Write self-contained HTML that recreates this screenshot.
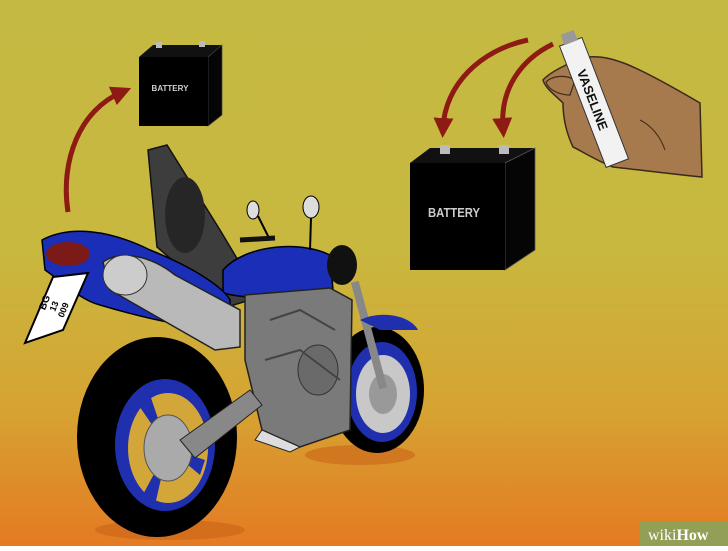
<!DOCTYPE html>
<html><head><style>
html,body{margin:0;padding:0;}
body{width:728px;height:546px;overflow:hidden;}
</style></head><body>
<svg width="728" height="546" viewBox="0 0 728 546" xmlns="http://www.w3.org/2000/svg">
<defs>
<linearGradient id="bg" x1="0" y1="0" x2="0" y2="1">
<stop offset="0" stop-color="#c4b942"/>
<stop offset="0.45" stop-color="#c8b83f"/>
<stop offset="0.75" stop-color="#d6a332"/>
<stop offset="1" stop-color="#e47a22"/>
</linearGradient>
<marker id="ah" viewBox="0 0 10 10" refX="5" refY="5" markerWidth="4" markerHeight="4" orient="auto-start-reverse">
<path d="M0,0 L10,5 L0,10 z" fill="#8e1a14"/>
</marker>
</defs>
<rect width="728" height="546" fill="url(#bg)"/>

<path d="M68,212 C60,160 80,110 122,92" stroke="#8e1a14" stroke-width="5" fill="none" marker-end="url(#ah)"/>
<path d="M528,40 C480,50 445,85 443,128" stroke="#8e1a14" stroke-width="5" fill="none" marker-end="url(#ah)"/>
<path d="M553,44 C520,60 500,90 503,128" stroke="#8e1a14" stroke-width="5" fill="none" marker-end="url(#ah)"/>

<polygon points="139,57 153,45 222,45 208,57" fill="#111"/>
<polygon points="208,57 222,45 222,115 208,126" fill="#050505" stroke="#444" stroke-width="0.7"/>
<rect x="139" y="57" width="69" height="69" fill="#000"/>
<rect x="156" y="42" width="6" height="6" fill="#bbb"/>
<rect x="199" y="41" width="6" height="6" fill="#bbb"/>
<text x="170" y="91" font-family="Liberation Sans" font-weight="bold" font-size="8" fill="#ccc" text-anchor="middle">BATTERY</text>

<polygon points="410,163 430,148 535,148 505,163" fill="#111"/>
<polygon points="505,163 535,148 535,250 505,270" fill="#050505" stroke="#555" stroke-width="0.8"/>
<rect x="410" y="163" width="95" height="107" fill="#000"/>
<rect x="440" y="145" width="10" height="9" fill="#bbb"/>
<rect x="499" y="145" width="10" height="9" fill="#bbb"/>
<text x="428" y="217" font-family="Liberation Sans" font-weight="bold" font-size="13" fill="#ccc" textLength="52" lengthAdjust="spacingAndGlyphs">BATTERY</text>

<!-- hand -->
<path d="M587,57 C610,55 630,62 700,103 L702,177 C680,175 640,170 613,167 C595,160 580,150 573,147 C565,130 563,115 563,103 C555,95 545,88 543,80 C550,72 570,62 587,57 Z" fill="#a77a4e" stroke="#3a2a1a" stroke-width="1.5"/>
<path d="M546,82 C552,76 565,74 575,80 L570,95 C560,95 548,90 546,82 Z" fill="#a77a4e" stroke="#3a2a1a" stroke-width="1.2"/>
<path d="M640,120 C650,125 660,135 665,150" stroke="#3a2a1a" stroke-width="1" fill="none"/>
<g transform="rotate(-21 592 100)">
<rect x="581" y="38" width="24" height="130" fill="#f2f2f2" stroke="#333" stroke-width="1"/>
<rect x="586" y="28" width="14" height="11" fill="#999"/>
<text x="0" y="0" transform="translate(588,68) rotate(90)" font-family="Liberation Sans" font-weight="bold" font-size="13" fill="#111">VASELINE</text>
</g>

<ellipse cx="170" cy="530" rx="75" ry="10" fill="#c96418" opacity="0.6"/>
<ellipse cx="360" cy="455" rx="55" ry="10" fill="#c96418" opacity="0.6"/>

<ellipse cx="377" cy="390" rx="47" ry="63" fill="#000"/>
<ellipse cx="382" cy="392" rx="35" ry="50" fill="#1f2fae"/>
<ellipse cx="383" cy="394" rx="27" ry="39" fill="#c8c8c8"/>
<ellipse cx="383" cy="394" rx="14" ry="20" fill="#999"/>
<rect x="365" y="280" width="8" height="110" fill="#888" transform="rotate(-15 369 335)"/>
<path d="M360,320 C380,310 410,315 418,330 L380,330 Z" fill="#1f2fae"/>

<polygon points="148,150 167,145 220,230 260,297 227,307 157,247" fill="#3d3d3d" stroke="#111" stroke-width="1.5"/>
<ellipse cx="185" cy="215" rx="20" ry="38" fill="#262626"/>

<path d="M223,270 C245,245 300,240 330,255 L333,290 C300,300 250,300 223,293 Z" fill="#1a2eb8" stroke="#000" stroke-width="1.5"/>
<ellipse cx="253" cy="210" rx="6" ry="9" fill="#ddd" stroke="#000"/>
<ellipse cx="311" cy="207" rx="8" ry="11" fill="#ddd" stroke="#000"/>
<path d="M258,216 L270,240 M311,218 L310,250" stroke="#000" stroke-width="2"/>
<path d="M240,240 L275,238" stroke="#111" stroke-width="5"/>
<ellipse cx="342" cy="265" rx="15" ry="20" fill="#111"/>

<path d="M245,295 L330,288 L352,300 L350,430 L300,447 L262,430 L245,360 Z" fill="#7a7a7a" stroke="#222" stroke-width="1.5"/>
<path d="M262,430 L300,447 L290,452 L255,440 Z" fill="#ddd" stroke="#222"/>
<ellipse cx="318" cy="370" rx="20" ry="25" fill="#6a6a6a" stroke="#333"/>
<path d="M270,320 L300,310 L335,330 M265,360 L300,350 L340,380" stroke="#444" stroke-width="2" fill="none"/>

<path d="M42,240 C70,225 110,230 150,250 C200,270 225,290 230,300 L230,330 C200,330 150,320 100,305 C80,300 60,280 45,270 Z" fill="#1a2eb8" stroke="#000" stroke-width="1.5"/>
<ellipse cx="68" cy="254" rx="22" ry="12" fill="#7b1a16"/>
<path d="M103,262 C120,250 150,255 175,275 L240,310 L240,347 L215,350 L110,290 Z" fill="#b9b9b9" stroke="#222" stroke-width="1.5"/>
<ellipse cx="125" cy="275" rx="22" ry="20" fill="#ccc" stroke="#333"/>

<ellipse cx="157" cy="437" rx="80" ry="100" fill="#000"/>
<ellipse cx="165" cy="445" rx="50" ry="66" fill="#1f2fae"/>
<ellipse cx="168" cy="448" rx="40" ry="55" fill="#d3a63a"/>
<path d="M168,448 L135,400 L150,395 Z M168,448 L140,500 L155,505 Z M168,448 L205,460 L200,475 Z" fill="#1f2fae"/>
<ellipse cx="168" cy="448" rx="24" ry="33" fill="#aaa" stroke="#555"/>
<path d="M180,440 L250,390 L262,405 L195,458 Z" fill="#888" stroke="#222"/>

<polygon points="25,343 53,277 88,273 63,330" fill="#fff" stroke="#000" stroke-width="2"/>
<g transform="translate(56,307) rotate(-68)" font-family="Liberation Sans" font-weight="bold" fill="#000" text-anchor="middle">
<text x="0" y="-9" font-size="10">BG</text>
<text x="0" y="1" font-size="9">13</text>
<text x="0" y="11" font-size="9">009</text>
</g>

<rect x="640" y="522" width="88" height="24" fill="#8aa35c" opacity="0.9"/>
<text x="648" y="540" font-family="Liberation Serif" font-size="16" fill="#fff">wiki<tspan font-weight="bold">How</tspan></text>
</svg>
</body></html>
